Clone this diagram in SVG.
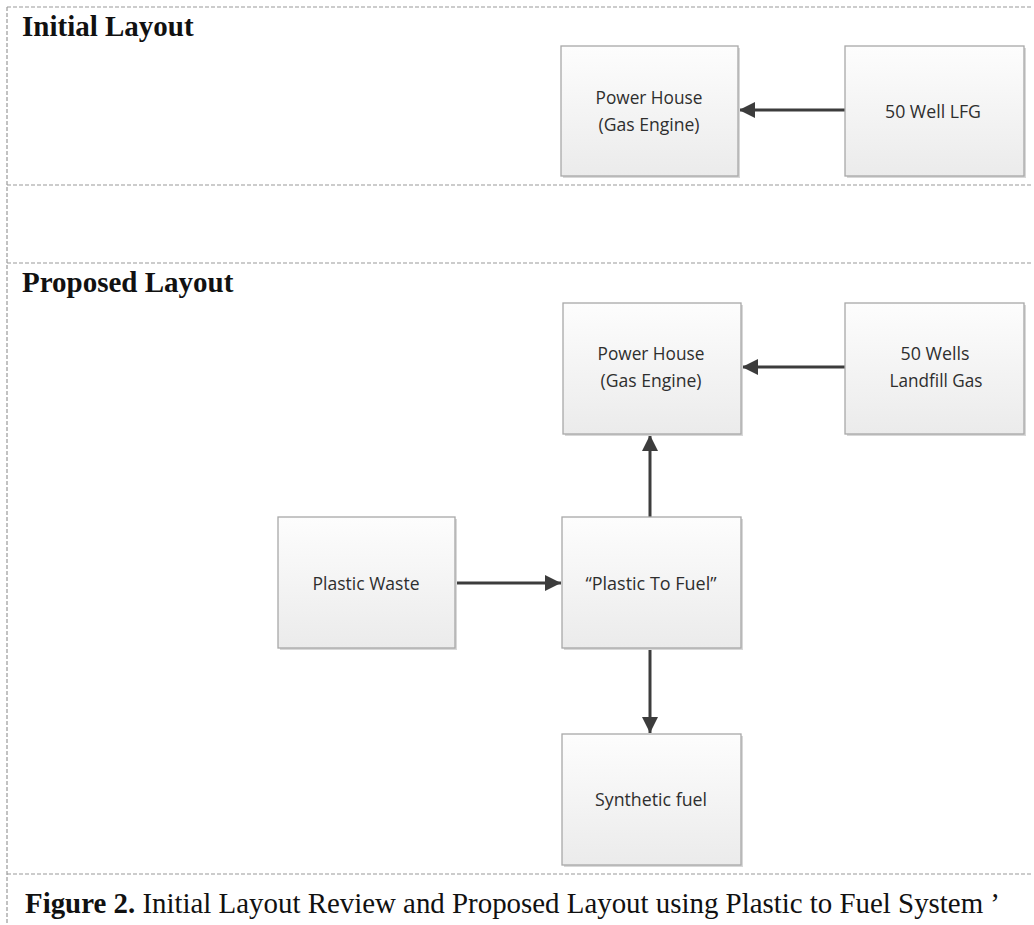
<svg xmlns="http://www.w3.org/2000/svg" width="1034" height="925" viewBox="0 0 1034 925">
<defs>
<linearGradient id="g" x1="0" y1="0" x2="0" y2="1">
<stop offset="0" stop-color="#fdfdfd"/>
<stop offset="1" stop-color="#ebebeb"/>
</linearGradient>
<marker id="ah" markerUnits="userSpaceOnUse" markerWidth="18" markerHeight="18" refX="16" refY="8" orient="auto">
<path d="M0,0 L16,8 L0,16 Z" fill="#3c3c3c"/>
</marker>
<style>
.sh{fill:#d8d8d8}
.bx{fill:url(#g);stroke:#a8a8a8;stroke-width:1.3}
.t{font-family:"Open Sans","Liberation Sans",sans-serif;font-size:19px;fill:#2e2e2e;text-anchor:middle}
.h{font-family:"Liberation Serif","Times New Roman",serif;font-weight:bold;font-size:29px;fill:#111}
.d{stroke:#9a9a9a;stroke-width:1.2;stroke-dasharray:4,2;fill:none}
.c{stroke:#3c3c3c;stroke-width:3;fill:none;marker-end:url(#ah)}
.cap{font-family:"Liberation Serif","Times New Roman",serif;font-size:29px;fill:#111}
</style>
</defs>
<g id="frame">
<line class="d" x1="7" y1="7" x2="1032" y2="7"/>
<line class="d" x1="7" y1="7" x2="7" y2="925"/>
<line class="d" x1="7" y1="185" x2="1032" y2="185"/>
<line class="d" x1="7" y1="263" x2="1032" y2="263"/>
<line class="d" x1="7" y1="874" x2="1032" y2="874"/>
<text class="h" x="22" y="36">Initial Layout</text>
<text class="h" x="22" y="292">Proposed Layout</text>
<text class="cap" x="25" y="913" textLength="975" lengthAdjust="spacingAndGlyphs"><tspan font-weight="bold">Figure 2.</tspan> Initial Layout Review and Proposed Layout using Plastic to Fuel System ’</text>
</g>
<g id="connectors">
<line class="c" x1="845" y1="110" x2="739" y2="110"/>
<line class="c" x1="845" y1="367" x2="742" y2="367"/>
<line class="c" x1="650" y1="517" x2="650" y2="435"/>
<line class="c" x1="455" y1="583" x2="561" y2="583"/>
<line class="c" x1="650" y1="648" x2="650" y2="733"/>
</g>
<g id="ph1">
<rect class="sh" x="563" y="48" width="177" height="130"/>
<rect class="bx" x="561" y="46" width="177" height="130"/>
<text class="t" x="649" y="104" textLength="107" lengthAdjust="spacingAndGlyphs">Power House</text>
<text class="t" x="649" y="131" textLength="101" lengthAdjust="spacingAndGlyphs">(Gas Engine)</text>
</g>
<g id="lfg1">
<rect class="sh" x="847" y="48" width="179" height="130"/>
<rect class="bx" x="845" y="46" width="179" height="130"/>
<text class="t" x="933" y="118" textLength="96" lengthAdjust="spacingAndGlyphs">50 Well LFG</text>
</g>
<g id="ph2">
<rect class="sh" x="565" y="305" width="178" height="131"/>
<rect class="bx" x="563" y="303" width="178" height="131"/>
<text class="t" x="651" y="360" textLength="107" lengthAdjust="spacingAndGlyphs">Power House</text>
<text class="t" x="651" y="387" textLength="101" lengthAdjust="spacingAndGlyphs">(Gas Engine)</text>
</g>
<g id="lfg2">
<rect class="sh" x="847" y="305" width="179" height="131"/>
<rect class="bx" x="845" y="303" width="179" height="131"/>
<text class="t" x="935" y="360" textLength="69" lengthAdjust="spacingAndGlyphs">50 Wells</text>
<text class="t" x="936" y="387" textLength="93" lengthAdjust="spacingAndGlyphs">Landfill Gas</text>
</g>
<g id="pw">
<rect class="sh" x="280" y="519" width="177" height="131"/>
<rect class="bx" x="278" y="517" width="177" height="131"/>
<text class="t" x="366" y="590" textLength="107" lengthAdjust="spacingAndGlyphs">Plastic Waste</text>
</g>
<g id="ptf">
<rect class="sh" x="564" y="519" width="179" height="131"/>
<rect class="bx" x="562" y="517" width="179" height="131"/>
<text class="t" x="651" y="590" textLength="131" lengthAdjust="spacingAndGlyphs">“Plastic To Fuel”</text>
</g>
<g id="sf">
<rect class="sh" x="564" y="736" width="179" height="131"/>
<rect class="bx" x="562" y="734" width="179" height="131"/>
<text class="t" x="651" y="806" textLength="112" lengthAdjust="spacingAndGlyphs">Synthetic fuel</text>
</g>
</svg>
